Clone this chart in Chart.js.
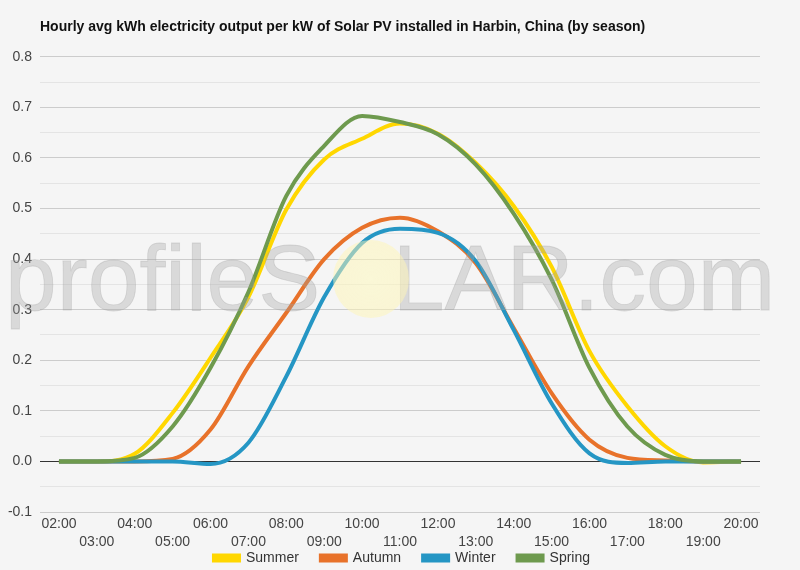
<!DOCTYPE html>
<html>
<head>
<meta charset="utf-8">
<script src="https://cdn.jsdelivr.net/npm/chart.js@4.4.1/dist/chart.umd.min.js"></script>
<style>
  html, body { margin: 0; padding: 0; background: #f5f5f5; }
  #wrap { position: relative; width: 800px; height: 570px; overflow: hidden; }
  #c { position: absolute; left: 0; top: 0; }
  #wm { position: absolute; left: 5px; top: 231px; font-family: 'Liberation Sans', Arial, sans-serif;
        font-size: 93px; line-height: 95px; color: rgba(160,160,160,0.33); white-space: nowrap;
        -webkit-text-stroke: 0.8px rgba(160,160,160,0.33); letter-spacing: 0px;
        pointer-events: none; }
  #wm .o { color: transparent; -webkit-text-stroke: 0; }
  #sun { position: absolute; left: 333px; top: 240px; width: 76px; height: 78px; border-radius: 50%;
         background: radial-gradient(ellipse at center, rgba(255,250,190,0.55) 0%, rgba(255,245,180,0.5) 70%, rgba(250,215,160,0.45) 100%);
         pointer-events: none; }
</style>
</head>
<body>
<div id="wrap">
  <canvas id="c" width="800" height="570"></canvas>
  <div id="wm">profileS<span class="o">O</span>LAR.com</div>
  <div id="sun"></div>
</div>
<script>
const titleText = 'Hourly avg kWh electricity output per kW of Solar PV installed in Harbin, China (by season)';
const hours = ['02:00','03:00','04:00','05:00','06:00','07:00','08:00','09:00','10:00','11:00','12:00','13:00','14:00','15:00','16:00','17:00','18:00','19:00','20:00'];
const summer = [0, 0, 0.015, 0.096, 0.205, 0.325, 0.498, 0.597, 0.638, 0.668, 0.648, 0.59, 0.505, 0.385, 0.218, 0.109, 0.03, -0.002, 0];
const autumn = [0, 0, 0, 0.005, 0.063, 0.188, 0.294, 0.4, 0.462, 0.482, 0.455, 0.392, 0.264, 0.135, 0.043, 0.007, 0.002, 0, 0];
const winter = [0, 0, 0, 0, -0.005, 0.037, 0.168, 0.325, 0.432, 0.46, 0.452, 0.396, 0.26, 0.115, 0.016, -0.003, 0, 0, 0];
const spring = [0, 0, 0.007, 0.069, 0.185, 0.335, 0.525, 0.624, 0.683, 0.671, 0.647, 0.587, 0.49, 0.36, 0.185, 0.069, 0.013, 0, 0];
const seriesNames = ['Summer', 'Autumn', 'Winter', 'Spring'];
const seriesColors = ['#FFD700', '#E8722A', '#2596C4', '#6E9A4E'];
const yTicksMin = -0.1, yTicksMax = 0.8, yStep = 0.05;

const FONT = "'Liberation Sans', Arial, sans-serif";
const seriesData = [summer, autumn, winter, spring];

const datasets = seriesNames.map((name, i) => ({
  label: name,
  data: seriesData[i],
  borderColor: seriesColors[i],
  backgroundColor: seriesColors[i],
  borderWidth: 4,
  pointRadius: 0,
  pointHoverRadius: 0,
  cubicInterpolationMode: 'monotone',
  fill: false,
  order: seriesNames.length - i
}));

// move the legend row up/right so it sits right under the two rows of hour labels
const legendNudge = {
  id: 'legendNudge',
  afterLayout(chart) {
    const l = chart.legend;
    if (l) { l.top -= 21; l.bottom -= 21; l.left += 22; l.right += 22; }
  }
};

new Chart(document.getElementById('c'), {
  type: 'line',
  data: { labels: hours, datasets },
  plugins: [legendNudge],
  options: {
    responsive: false,
    animation: false,
    layout: { padding: { left: 0, right: 40, top: 0, bottom: -26 } },
    plugins: {
      title: {
        display: true,
        text: titleText,
        align: 'start',
        fullSize: false,
        color: '#111',
        font: { family: FONT, size: 14, weight: 'bold' },
        padding: { top: 19, bottom: 21 }
      },
      legend: {
        position: 'bottom',
        labels: {
          boxWidth: 25,
          boxHeight: 5,
          padding: 22,
          color: '#333',
          font: { family: FONT, size: 14 },
          sort: (a, b) => a.datasetIndex - b.datasetIndex
        }
      },
      tooltip: { enabled: false }
    },
    scales: {
      x: {
        type: 'category',
        offset: true,
        grid: { display: false, drawTicks: false },
        border: { display: false },
        ticks: {
          autoSkip: false,
          maxRotation: 0,
          minRotation: 0,
          padding: 3,
          color: '#444',
          font: { family: FONT, size: 14, lineHeight: 1.3 },
          callback: function(value, index) {
            const lab = this.getLabelForValue(value);
            return index % 2 === 0 ? lab : ['', lab];
          }
        },
        afterFit: (s) => { s.height = 38; }
      },
      y: {
        min: yTicksMin,
        max: yTicksMax,
        border: { display: false },
        grid: {
          drawTicks: false,
          color: (ctx) => {
            const v = Math.round(ctx.tick.value * 100);
            if (v === 0) return '#333333';
            return (v % 10 === 0) ? '#cccccc' : '#e4e4e4';
          }
        },
        ticks: {
          stepSize: yStep,
          padding: 8,
          color: '#444',
          font: { family: FONT, size: 14 },
          callback: (v) => (Math.round(v * 100) % 10 === 0) ? Number(v).toFixed(1) : ''
        },
        afterFit: (s) => { s.width = 40; }
      }
    }
  }
});
</script>
</body>
</html>
